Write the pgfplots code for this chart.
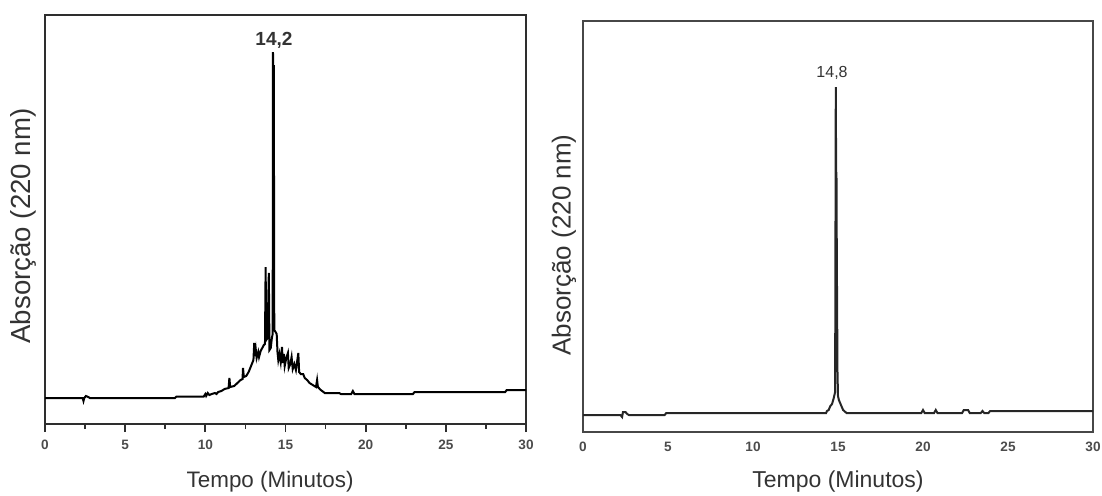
\documentclass[border=0pt]{standalone}
\usepackage{fontspec}
\setmainfont{Liberation Sans}
\usepackage{pgfplots}
\pgfplotsset{compat=1.18}
\definecolor{axgray}{HTML}{2E2E2E}
\definecolor{axgrayR}{HTML}{474747}
\definecolor{linegray}{HTML}{262626}
\begin{document}
\begin{tikzpicture}[x=1pt,y=1pt]
\useasboundingbox (0,0) rectangle (551,247.5);
% ---------------- left chromatogram ----------------
\begin{axis}[
  at={(22.5pt,35.5pt)}, anchor=south west,
  scale only axis, width=240.5pt, height=204.5pt,
  xmin=0, xmax=30, ymin=0, ymax=409,
  xtick={0,5,...,30}, minor x tick num=1,
  ytick=\empty,
  xtick pos=bottom, tick align=outside,
  major tick length=4pt, minor tick length=2.5pt,
  axis line style={line width=1.1pt, color=axgray},
  every tick/.style={line width=0.9pt, color=axgray},
  /pgf/number format/assume math mode=true,
  xticklabel style={anchor=center, yshift=-6.5pt, font=\fontsize{6.8}{7}\selectfont\bfseries, color=black!70},
  xlabel={Tempo (Minutos)},
  ylabel={Absorção (220 nm)},
  xlabel style={at={(axis description cs:0.468,-0.1418)}, anchor=center, font=\fontsize{11.2}{12}\selectfont, color=black!80},
  ylabel style={at={(axis description cs:-0.0447,0.484)}, anchor=center, font=\fontsize{13.8}{14}\selectfont, color=black!80},
]
\addplot[black, line width=1pt, sharp plot, line join=miter] coordinates {
(0,26)(2.35,26)(2.4,23)(2.45,26)(2.55,28)(2.7,27)(2.8,26)(8.1,26)(8.2,27.5)(9.9,27.5)
(10.0,30)(10.05,28)(10.15,31)(10.25,29)(10.4,30)(10.6,31)(10.7,30)(10.8,32)(11.0,33)(11.2,35)
(11.45,36)(11.5,46)(11.55,37)(11.8,38)(12.0,41)(12.2,44)(12.32,45)(12.35,56)(12.4,47)(12.55,48)
(12.7,52)(12.85,58)(13.0,64)(13.05,81)(13.1,68)(13.15,74)(13.2,66)(13.3,72)(13.35,67)(13.45,73)
(13.55,76)(13.65,79)(13.72,80)(13.76,157)(13.8,84)(13.88,86)(13.96,151)(14.0,74)(14.08,76)(14.15,86)
(14.2,90)(14.22,372)(14.25,96)(14.27,359)(14.3,94)(14.38,92)(14.45,90)(14.5,72)(14.55,64)(14.62,70)
(14.7,62)(14.78,77)(14.83,61)(14.9,70)(14.95,58)(15.05,66)(15.15,71)(15.2,56)(15.3,60)(15.38,67)
(15.45,55)(15.55,60)(15.65,54)(15.8,71)(15.85,52)(15.95,50)(16.1,50)(16.2,46)(16.35,44)(16.5,41)
(16.7,39)(16.9,37)(16.97,44)(17.02,37)(17.2,34)(17.45,31)(18.35,31)(18.45,30)(19.1,30)(19.2,33)
(19.3,30)(22.95,30)(23.05,32)(28.7,32)(28.8,34)(30,34)
};
\node[font=\fontsize{9.5}{10}\selectfont\bfseries, color=black!80] at (axis cs:14.28,384) {14,2};
\end{axis}
% ---------------- right chromatogram ----------------
\begin{axis}[
  at={(291.5pt,31.5pt)}, anchor=south west,
  scale only axis, width=255pt, height=205.5pt,
  xmin=0, xmax=30, ymin=0, ymax=411,
  xtick={0,5,...,30},
  ytick=\empty,
  xtick pos=bottom, major tick length=0pt,
  axis line style={line width=1.3pt, color=axgrayR},
  /pgf/number format/assume math mode=true,
  xticklabel style={anchor=center, yshift=-7.5pt, font=\fontsize{6.8}{7}\selectfont\bfseries, color=black!70},
  xlabel={Tempo (Minutos)},
  ylabel={Absorção (220 nm)},
  xlabel style={at={(axis description cs:0.5,-0.1217)}, anchor=center, font=\fontsize{11.5}{12}\selectfont, color=black!80},
  ylabel style={at={(axis description cs:-0.0373,0.455)}, anchor=center, font=\fontsize{13}{14}\selectfont, color=black!80},
]
\addplot[linegray, line width=1pt, sharp plot] coordinates {
(0,17)(2.2,17)(2.3,15)(2.35,20)(2.5,20)(2.6,18)(2.7,17)(4.8,17)(4.9,19)(13.8,19)
(14.3,19)(14.35,21)(14.45,22)(14.55,26)(14.65,28)(14.75,34)(14.83,40)(14.87,345)(14.89,259)(14.91,259)(14.93,177)
(14.97,60)(15.0,36)(15.05,32)(15.15,28)(15.3,22)(15.5,19)(19.9,19)(20.0,22)(20.1,19)(20.65,19)
(20.75,22)(20.85,19)(22.3,19)(22.4,22)(22.65,22)(22.75,19)(23.4,19)(23.5,21)(23.6,19)(23.85,19)
(23.95,21)(24.05,21)(30,21)
};
\node[font=\fontsize{8}{9}\selectfont, color=black!80] at (axis cs:14.65,359) {14,8};
\end{axis}
\end{tikzpicture}
\end{document}
